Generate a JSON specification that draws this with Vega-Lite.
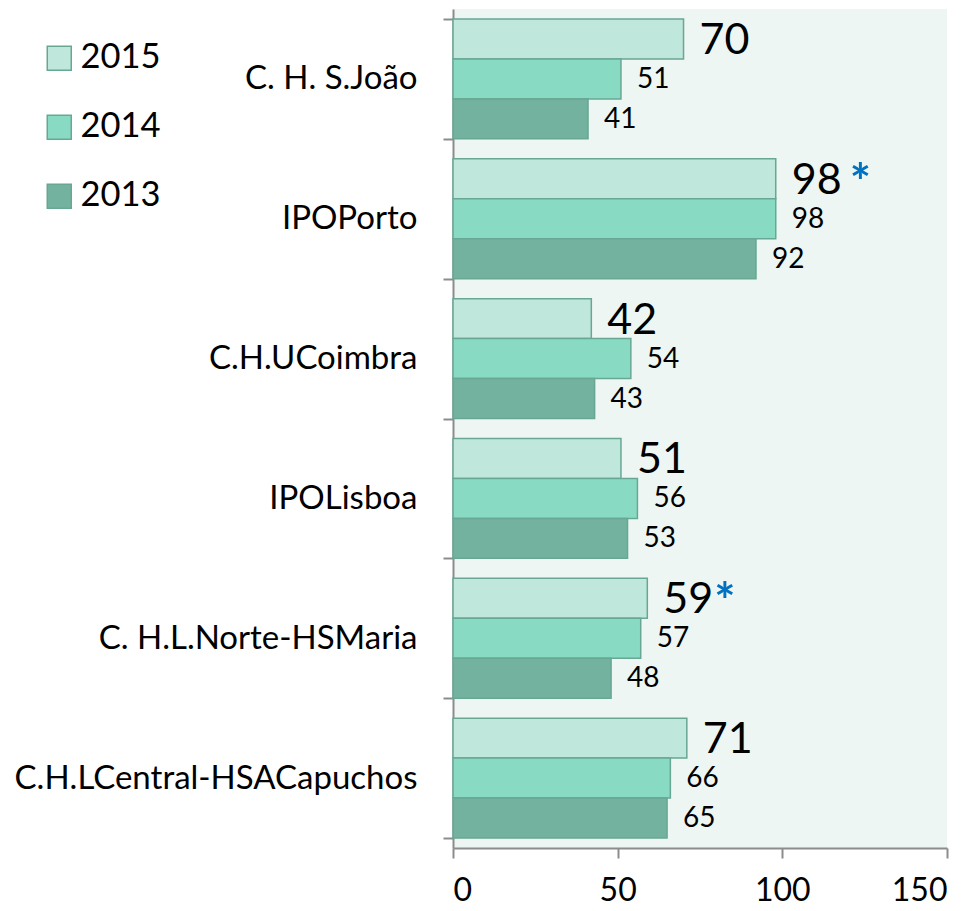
{
  "$schema": "https://vega.github.io/schema/vega-lite/v6.json",
  "autosize": "none",
  "width": 494,
  "height": 839,
  "padding": {"left": 453, "top": 9, "right": 28, "bottom": 63},
  "background": "white",
  "config": {
    "view": {"fill": "#EDF6F2", "stroke": null},
    "font": "Lato",
    "axis": {"labelFont": "Lato", "labelColor": "#000000", "domainColor": "#8C8C8C", "tickColor": "#8C8C8C", "domainWidth": 2, "tickWidth": 2, "grid": false, "title": null}
  },
  "data": {
    "values": [
      {"hospital": "C. H. S.João", "year": "2015", "value": 70, "note": ""},
      {"hospital": "C. H. S.João", "year": "2014", "value": 51, "note": ""},
      {"hospital": "C. H. S.João", "year": "2013", "value": 41, "note": ""},
      {"hospital": "IPOPorto", "year": "2015", "value": 98, "note": "*"},
      {"hospital": "IPOPorto", "year": "2014", "value": 98, "note": ""},
      {"hospital": "IPOPorto", "year": "2013", "value": 92, "note": ""},
      {"hospital": "C.H.UCoimbra", "year": "2015", "value": 42, "note": ""},
      {"hospital": "C.H.UCoimbra", "year": "2014", "value": 54, "note": ""},
      {"hospital": "C.H.UCoimbra", "year": "2013", "value": 43, "note": ""},
      {"hospital": "IPOLisboa", "year": "2015", "value": 51, "note": ""},
      {"hospital": "IPOLisboa", "year": "2014", "value": 56, "note": ""},
      {"hospital": "IPOLisboa", "year": "2013", "value": 53, "note": ""},
      {"hospital": "C. H.L.Norte-HSMaria", "year": "2015", "value": 59, "note": "*"},
      {"hospital": "C. H.L.Norte-HSMaria", "year": "2014", "value": 57, "note": ""},
      {"hospital": "C. H.L.Norte-HSMaria", "year": "2013", "value": 48, "note": ""},
      {"hospital": "C.H.LCentral-HSACapuchos", "year": "2015", "value": 71, "note": ""},
      {"hospital": "C.H.LCentral-HSACapuchos", "year": "2014", "value": 66, "note": ""},
      {"hospital": "C.H.LCentral-HSACapuchos", "year": "2013", "value": 65, "note": ""}
    ]
  },
  "encoding": {
    "y": {
      "field": "hospital", "type": "nominal", "sort": null,
      "scale": {"paddingInner": 0.143, "paddingOuter": 0.0715},
      "axis": {"tickBand": "extent", "tickSize": 10, "labelPadding": 26, "labelFontSize": 33, "labelLimit": 500}
    },
    "yOffset": {"field": "year", "type": "nominal", "scale": {"domain": ["2015", "2014", "2013"], "paddingInner": 0, "paddingOuter": 0}},
    "x": {
      "field": "value", "type": "quantitative",
      "scale": {"domain": [0, 150], "nice": false},
      "axis": {"values": [0, 50, 100, 150], "tickSize": 10, "labelPadding": 17, "labelFontSize": 32}
    }
  },
  "layer": [
    {
      "mark": {"type": "bar", "stroke": "#68A794", "strokeWidth": 1.5},
      "encoding": {
        "color": {
          "field": "year", "type": "nominal",
          "scale": {"domain": ["2015", "2014", "2013"], "range": ["#BFE7DB", "#88DBC2", "#72B29F"]},
          "legend": {
            "title": null, "orient": "none", "legendX": -411, "legendY": 32,
            "symbolType": "square", "symbolSize": 576, "symbolStrokeColor": "#68A794", "symbolStrokeWidth": 1.5,
            "labelFontSize": 34.5, "labelFont": "Lato", "labelColor": "#000000", "labelOffset": 4, "rowPadding": 34
          }
        }
      }
    },
    {
      "transform": [{"filter": "datum.year == '2015'"}],
      "mark": {"type": "text", "align": "left", "baseline": "middle", "dx": 16, "dy": 2, "fontSize": 43, "color": "#000000"},
      "encoding": {"text": {"field": "value", "type": "quantitative"}}
    },
    {
      "transform": [{"filter": "datum.year != '2015'"}],
      "mark": {"type": "text", "align": "left", "baseline": "middle", "dx": 16, "dy": 1, "fontSize": 28, "color": "#000000"},
      "encoding": {"text": {"field": "value", "type": "quantitative"}}
    },
    {
      "transform": [{"filter": "datum.note == '*' && datum.hospital == 'IPOPorto'"}],
      "mark": {"type": "text", "align": "left", "baseline": "middle", "dx": 74, "dy": 6, "fontSize": 50, "fontWeight": "bold", "color": "#0070C0"},
      "encoding": {"text": {"field": "note"}}
    },
    {
      "transform": [{"filter": "datum.note == '*' && datum.hospital == 'C. H.L.Norte-HSMaria'"}],
      "mark": {"type": "text", "align": "left", "baseline": "middle", "dx": 67, "dy": 6, "fontSize": 50, "fontWeight": "bold", "color": "#0070C0"},
      "encoding": {"text": {"field": "note"}}
    }
  ]
}
